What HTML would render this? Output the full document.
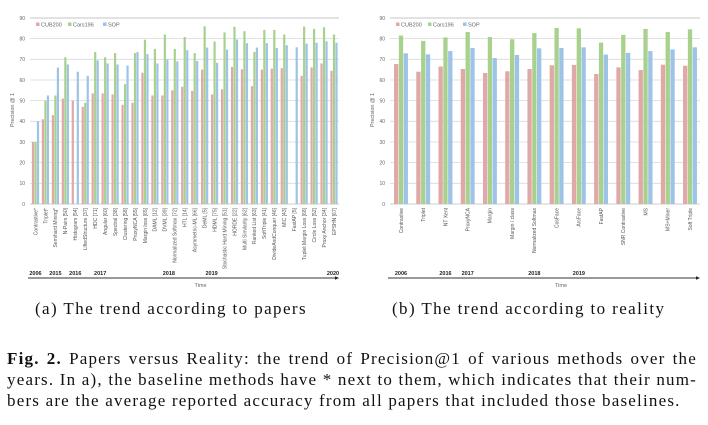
<!DOCTYPE html>
<html><head><meta charset="utf-8">
<style>
body{margin:0;background:#fff;width:708px;height:425px;overflow:hidden;position:relative;font-family:"Liberation Serif",serif;}
svg{position:absolute;left:0;top:0;}
.cap{position:absolute;font-size:17px;letter-spacing:1.4px;color:#111;white-space:nowrap;}
.fig{position:absolute;left:7px;width:690px;font-size:17px;letter-spacing:1.2px;line-height:21px;text-align:justify;color:#111;}
.fig span.l{display:block;text-align-last:justify;}
.fig span.e{display:block;white-space:nowrap;}
</style></head><body>
<svg id="chart" width="708" height="300"></svg>
<div class="cap" style="left:35px;top:299px">(a) The trend according to papers</div>
<div class="cap" style="left:392px;top:299px">(b) The trend according to reality</div>
<div class="fig" style="top:348px">
<span class="l"><b>Fig. 2.</b> Papers versus Reality: the trend of Precision@1 of various methods over the</span>
<span class="l">years. In a), the baseline methods have * next to them, which indicates that their num-</span>
<span class="e">bers are the average reported accuracy from all papers that included those baselines.</span>
</div>
<script>
const catsA=["Contrastive*","Triplet*","Semihard Mining*","N-Pairs [50]","Histogram [54]","LiftedStructure [37]","HDC [71]","Angular [60]","Spectral [38]","Clustering [58]","ProxyNCA [55]","Margin loss [65]","DAML [12]","DVML [39]","Normalized Softmax [72]","HTL [14]","Asymmetric-ML [66]","DeML [5]","HDML [75]","Stochastic Hard Mining [51]","HORDE [22]","Multi Similarity [62]","Ranked List [63]","SoftTriple [41]","DivideAndConquer [46]","MIC [43]","FastAP [5]","Tuplet Margin Loss [68]","Circle Loss [52]","Proxy Anchor [34]","EPSHN [67]"];
const cubA=[30,41,43,51,50,47,53.5,53.5,53,48,49,63.5,52.5,52.5,55,56.7,54.7,65,53,55.5,66.3,65.2,57,65,65.5,65.7,null,62,66.1,68,64.4];
const carsA=[30,50,52.5,71,null,49,73.5,71,73,58,73,79.5,75,82,75,80.8,73,86,78.6,83,85.7,83.6,73.6,84.2,84.2,82,null,85.9,84.7,85.5,82];
const sopA=[40,52.5,66,67.5,64,62,69.5,68,67.5,67,73.5,72.5,68,70,69,74.4,69.2,75.7,68.3,74.7,79.6,77.8,75.7,77.8,75.5,76.8,75.8,77.6,78,78.7,78];
const catsB=["Contrastive","Triplet","NT Xent","ProxyNCA","Margin","Margin / class","Normalized Softmax","CosFace","ArcFace","FastAP","SNR Contrastive","MS","MS+Miner","Soft Triple"];
const cubB=[67.7,64,66.5,65.3,63.4,64.2,65.3,67.1,67.3,62.9,66.1,64.8,67.4,66.9];
const carsB=[81.5,78.9,80.6,83.2,80.8,79.7,82.7,85.2,85,78.1,81.8,84.7,83.2,84.5];
const sopB=[72.9,72.4,74,75.5,70.6,72.1,75.3,75.5,75.8,72.3,73.1,74,74.8,75.8];
const yTicks=[0,10,20,30,40,50,60,70,80,90];
const yearsA=[["2006",0],["2015",2],["2016",4],["2017",6.5],["2018",13.4],["2019",17.7],["2020",29.9]];
const yearsB=[["2006",0],["2016",2],["2017",3],["2018",6],["2019",8]];
const NS="http://www.w3.org/2000/svg";
const svg=document.getElementById('chart');
function mk(t,a,p){const e=document.createElementNS(NS,t);for(const k in a)e.setAttribute(k,a[k]);(p||svg).appendChild(e);return e;}
const colors=["#e0a8a6","#a9d18e","#9dc3e6"];
const yS=v=>204-v*2.067;
function chart(x0,x1,cats,series,c0,step,bw,gap,years,yname){
  const g=mk('g',{});
  
  
  yTicks.forEach(t=>{
    const l=mk('line',{x1:x0,x2:x1,y1:yS(t),y2:yS(t),stroke:t==0?'#bbb':'#d9d9d9','stroke-width':t==90?1.5:0.8},g);
    
    
    const tx=mk('text',{x:x0-5,y:yS(t)+1.8,'font-size':5,'text-anchor':'end',fill:'#666','font-family':'Liberation Sans'},g);
    tx.textContent=t;
    
    
  });
  const yt=mk('text',{x:0,y:0,'font-size':5.5,'text-anchor':'middle',fill:'#666','font-family':'Liberation Sans',transform:`translate(${x0-16},110) rotate(-90)`},g);
  yt.textContent='Precision @ 1';
  
  
  cats.forEach((c,i)=>{
    const cx=c0+i*step;
    series.forEach((s,k)=>{
      const v=s[i]; if(v==null)return;
      const r=mk('rect',{x:cx+(k-1)*(bw+gap)-bw/2,y:yS(v),width:bw,height:yS(0)-yS(v),fill:colors[k]},g);
      
      
    });
    const t=mk('text',{x:0,y:0,'font-size':5,'text-anchor':'end',fill:'#555','font-family':'Liberation Sans',transform:`translate(${cx+1.8},208) rotate(-90)`},g);
    t.textContent=c;
    
    
  });
  const names=["CUB200","Cars196","SOP"];let lx=x0+6;
  names.forEach((n,k)=>{
    const r=mk('rect',{x:lx,y:22.5,width:3.5,height:3.5,fill:colors[k]},g);
    
    
    const t=mk('text',{x:lx+5,y:26.3,'font-size':5.5,fill:'#666','font-family':'Liberation Sans'},g);
    t.textContent=n;
    
    
    lx+=n.length*3+14;
  });
  years.forEach(([y,i])=>{
    const t=mk('text',{x:c0+i*step,y:275,'font-size':5.5,'font-weight':'bold','text-anchor':'middle',fill:'#222','font-family':'Liberation Sans'},g);
    t.textContent=y;
    
    
  });
  const ax=mk('line',{x1:x0-2,x2:x1-2,y1:278,y2:278,stroke:'#333','stroke-width':0.9},g);
  
  
  mk('polygon',{points:`${x1},278 ${x1-4},276.3 ${x1-4},279.7`,fill:'#222'},g);
  const tt=mk('text',{x:(x0+x1)/2+10,y:287,'font-size':5.5,fill:'#666','font-family':'Liberation Sans'},g);
  tt.textContent='Time';
  
  
}
chart(30,339,catsA,[cubA,carsA,sopA],35.5,9.95,2.2,0.3,yearsA,'chart-papers');
chart(390,700,catsB,[cubB,carsB,sopB],401,22.23,4.3,0.5,yearsB,'chart-reality');
</script>
</body></html>
